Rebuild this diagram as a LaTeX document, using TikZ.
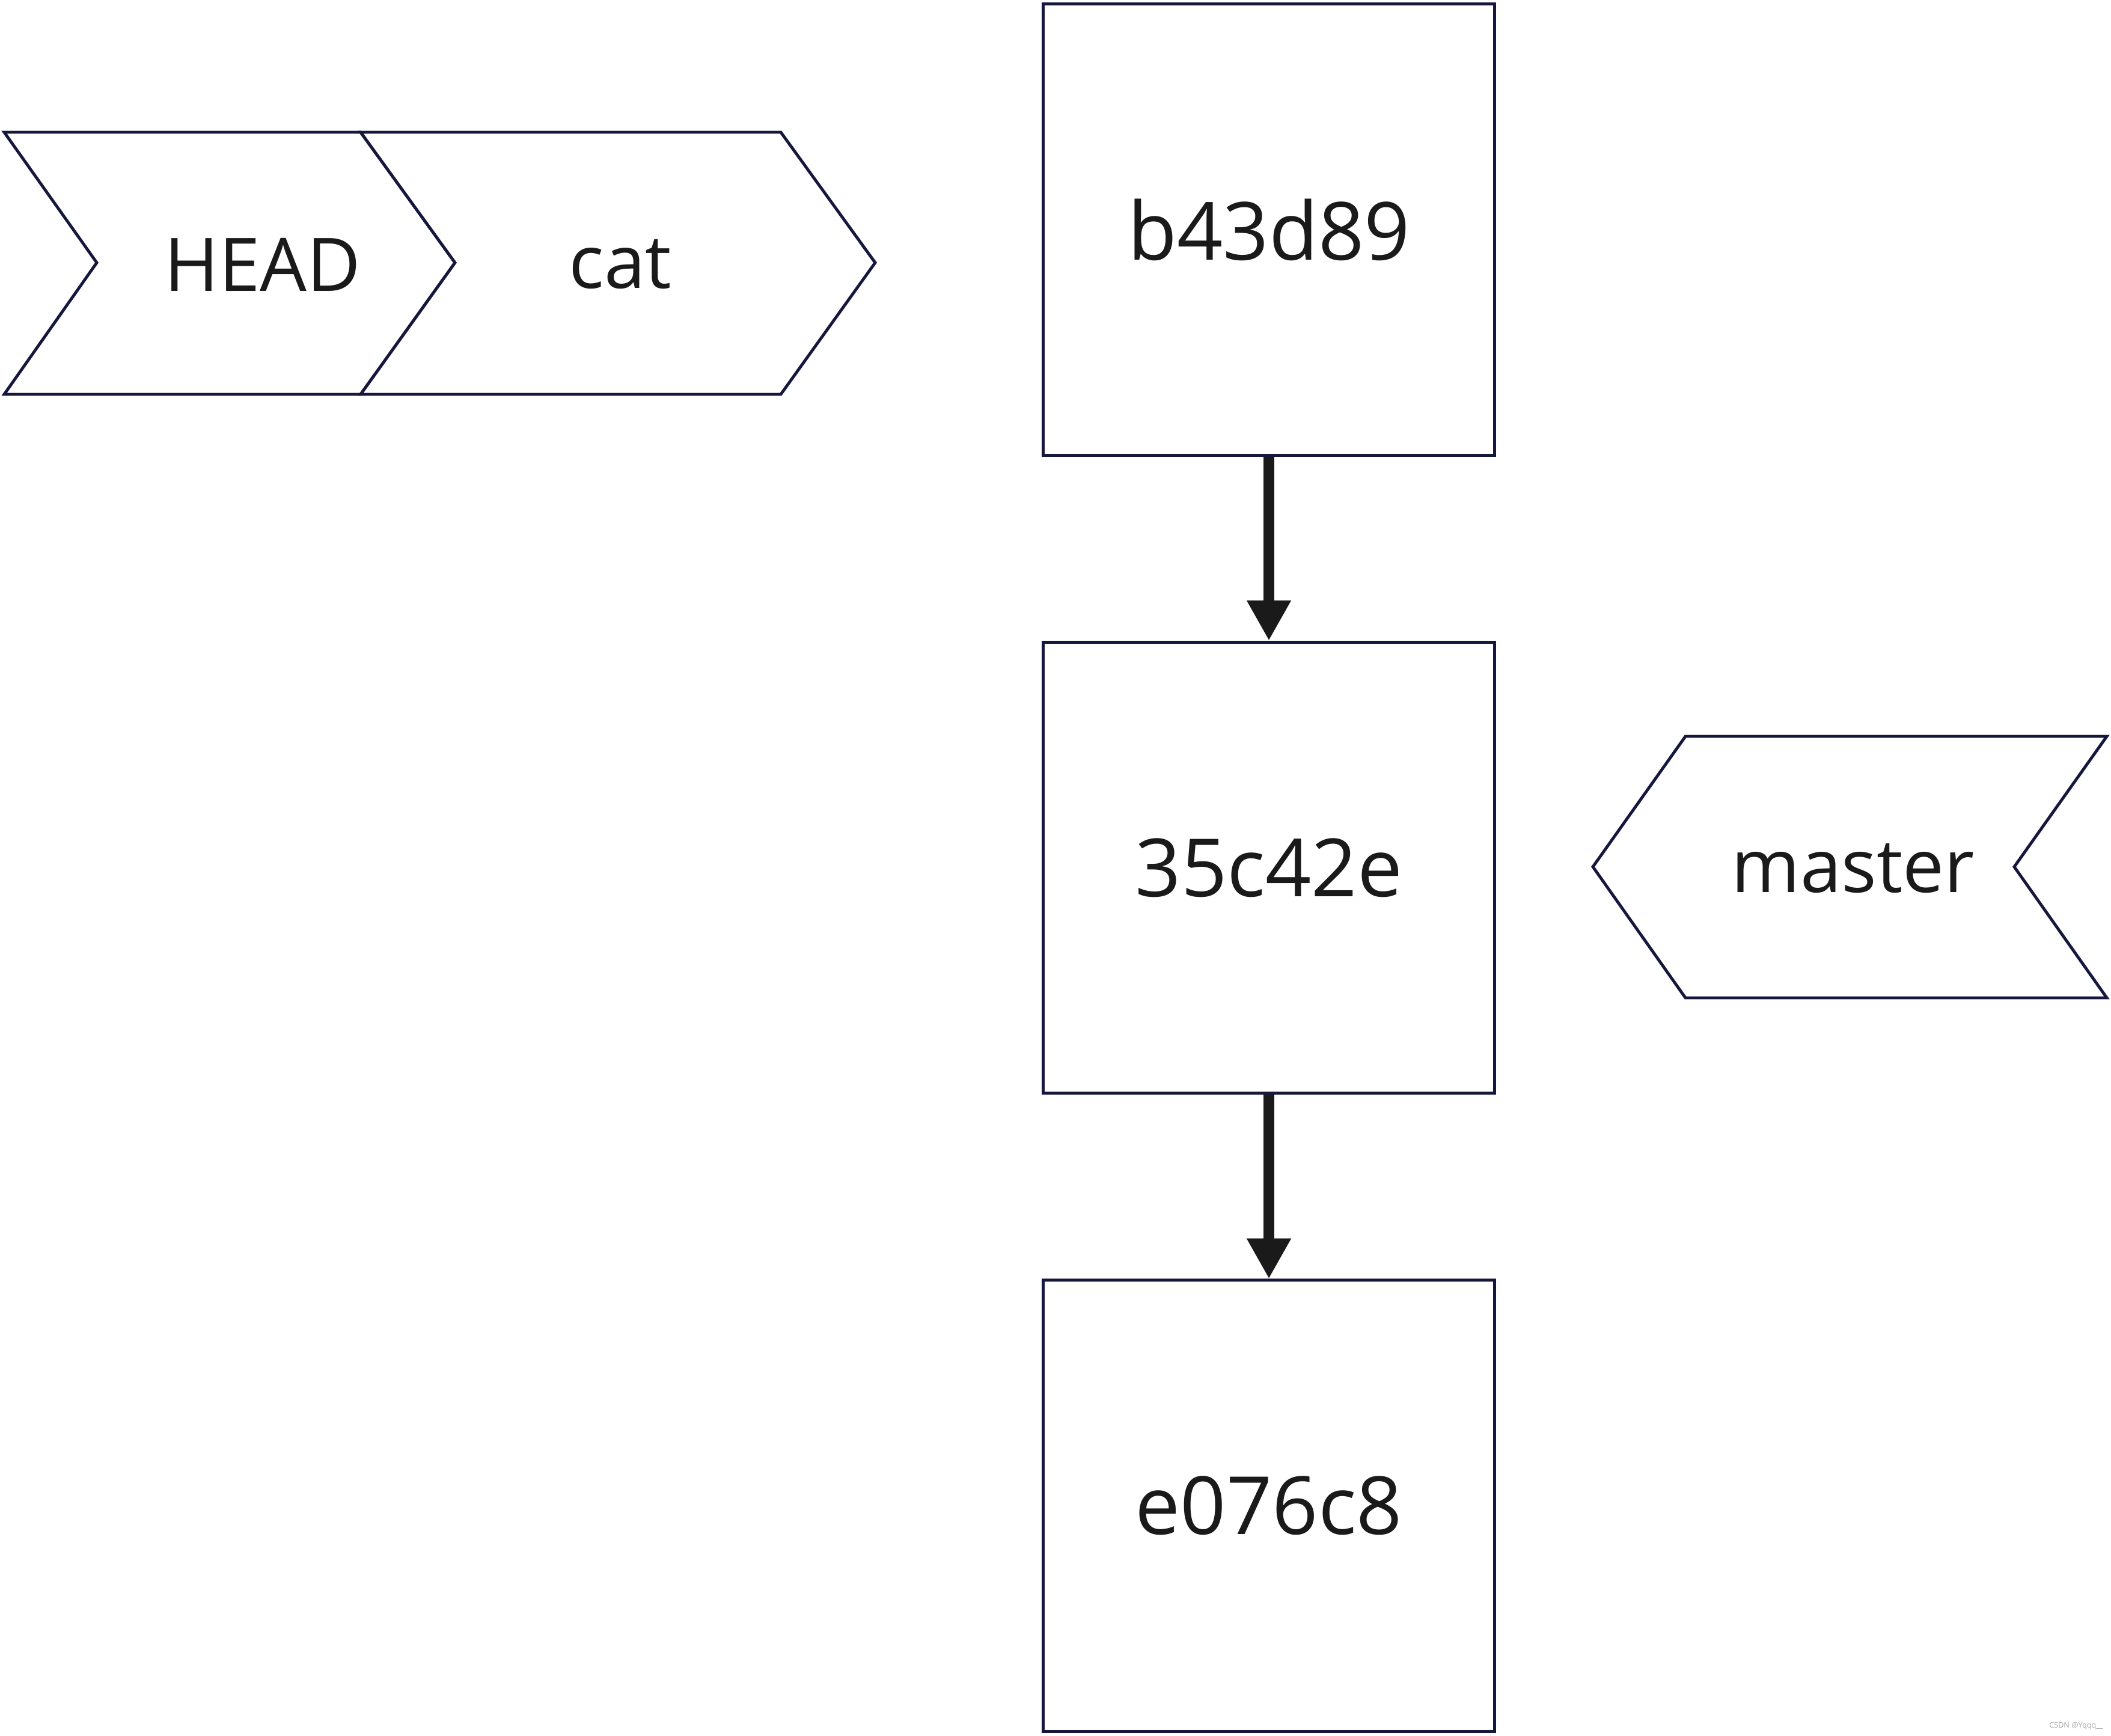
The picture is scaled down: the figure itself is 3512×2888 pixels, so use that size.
\documentclass[tikz,border=0pt]{standalone}
\usepackage{fontspec}
\setmainfont{Open Sans}
\usetikzlibrary{positioning,arrows.meta}
\definecolor{edgeblue}{HTML}{15173D}
\definecolor{inkgray}{HTML}{1A1A1A}
\tikzset{
  commit/.style  = {shape=rectangle, draw=edgeblue, line width=1.4pt,
                    minimum width=7.5cm, minimum height=7.5cm, inner sep=0pt,
                    text=inkgray, font=\fontsize{38}{46}\selectfont},
  tag/.style     = {draw=edgeblue, line width=1.4pt, line join=miter, fill=white},
  tagtext/.style = {text=inkgray, font=\fontsize{35}{42}\selectfont, inner sep=0pt},
  parent/.style  = {draw=inkgray, line width=5pt,
                    -{Triangle[width=0.69cm, length=0.67cm]}}
}

\begin{document}
\begin{tikzpicture}[x=0.01cm, y=-0.01cm]
  \useasboundingbox (0,0) rectangle (3512,2888);
  % commits
  \node [commit] (b43d89) at (2111,382) {b43d89};
  \node [commit, below=3.06cm of b43d89] (c35c42e) {35c42e};
  \node [commit, below=3.06cm of c35c42e] (e076c8) {e076c8};
  \draw [parent] (b43d89.south) -- (c35c42e.north);
  \draw [parent] (c35c42e.south) -- (e076c8.north);
  % branch tags
  \draw [tag] (7,220) -- (600,220) -- (757,437) -- (600,656) -- (7,656) -- (161,437) -- cycle;
  \draw [tag] (600,220) -- (1299,220) -- (1456,437) -- (1299,656) -- (600,656) -- (757,437) -- cycle;
  \draw [tag] (2804,1225) -- (3505,1225) -- (3351,1442) -- (3505,1660) -- (2804,1660) -- (2650,1442) -- cycle;
  \node [tagtext] (head)   at (437,440)   {HEAD};
  \node [tagtext] (cat)    at (1032,440)  {cat};
  \node [tagtext] (master) at (3083,1445) {master};
  % watermark
  \node [text=gray!70, font=\fontsize{3.6}{4}\selectfont, inner sep=0pt]
    (mark) at (3454,2871) {CSDN @Yqqq\_\_};
\end{tikzpicture}
\end{document}
